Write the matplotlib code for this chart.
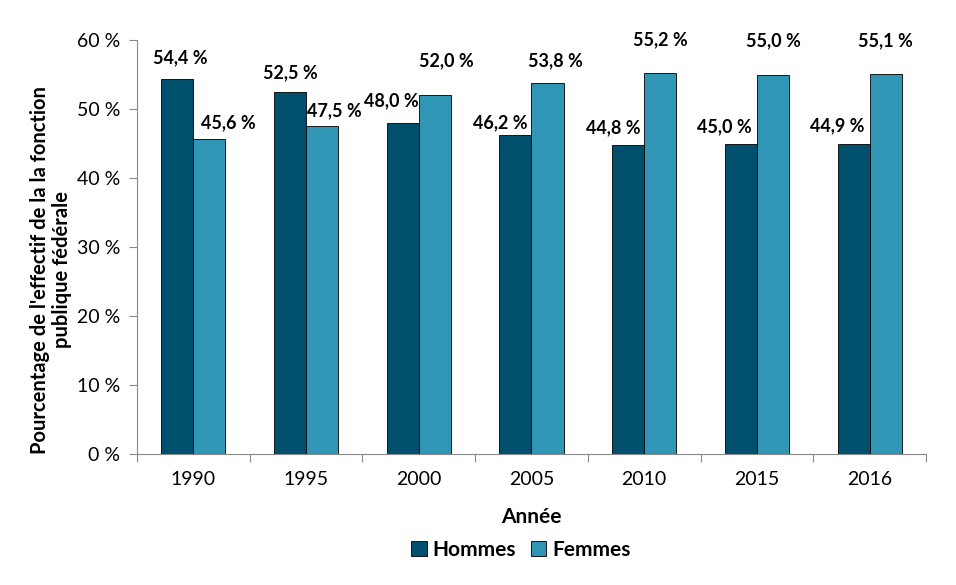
import matplotlib
matplotlib.use("Agg")
import matplotlib.pyplot as plt
import numpy as np

years = ["1990", "1995", "2000", "2005", "2010", "2015", "2016"]
hommes = [54.4, 52.5, 48.0, 46.2, 44.8, 45.0, 44.9]
femmes = [45.6, 47.5, 52.0, 53.8, 55.2, 55.0, 55.1]
yticks = [0, 10, 20, 30, 40, 50, 60]

# label offsets (points) relative to bar top centre
off_h = [(2, 15), (0, 14), (-8, 16), (-11, 9), (-11, 12), (-12, 12), (-12, 13)]
off_f = [(14, 12), (9, 11), (8, 25), (6, 16), (0, 24), (0, 24), (0, 24)]

plt.rcParams['font.family'] = ['Lato', 'DejaVu Sans']
c_h = "#004F6D"
c_f = "#3195B6"

fig = plt.figure(figsize=(9.56, 5.85), dpi=100)
ax = fig.add_axes([0.1433, 0.2239, 0.8253, 0.7077])

x = np.arange(len(years))
w = 0.285
bh = ax.bar(x - w/2, hommes, w, color=c_h, edgecolor="black", linewidth=0.6, label="Hommes")
bf = ax.bar(x + w/2, femmes, w, color=c_f, edgecolor="black", linewidth=0.6, label="Femmes")

for i in range(len(years)):
    ax.annotate(f"{hommes[i]:.1f} %".replace(".", ","), (x[i] - w/2, hommes[i]),
                xytext=off_h[i], textcoords="offset points", ha="center", va="center",
                fontsize=13, fontweight="bold")
    ax.annotate(f"{femmes[i]:.1f} %".replace(".", ","), (x[i] + w/2, femmes[i]),
                xytext=off_f[i], textcoords="offset points", ha="center", va="center",
                fontsize=13, fontweight="bold")

ax.set_xlim(-0.5, len(years) - 0.5)
ax.set_ylim(0, 60)
ax.set_yticks(yticks)
ax.set_yticklabels([f"{v} %" for v in yticks], fontsize=14)
ax.set_xticks(x)
ax.set_xticklabels(years, fontsize=14)
ax.tick_params(axis="x", length=0, pad=12)
ax.set_xticks(np.arange(-0.5, len(years)), minor=True)
ax.tick_params(axis="x", which="minor", length=6, color="#888888", width=0.8)
ax.tick_params(axis="y", length=6, color="#888888", width=0.8, pad=6)
for s in ["top", "right"]:
    ax.spines[s].set_visible(False)
for s in ["left", "bottom"]:
    ax.spines[s].set_color("#888888")
    ax.spines[s].set_linewidth(0.8)

ax.set_xlabel("Année", fontsize=15, fontweight="bold", labelpad=14)
ax.set_ylabel("Pourcentage de l'effectif de la la fonction\npublique fédérale", fontsize=14.5,
              fontweight="bold", linespacing=1.15)
ax.yaxis.set_label_coords(-0.082, 0.445)

fig.legend(handles=[bh, bf], loc="center", bbox_to_anchor=(0.545, 0.06), ncol=2, frameon=False,
           prop={"size": 15, "weight": "bold"}, handlelength=0.75, handleheight=0.75,
           handletextpad=0.3, columnspacing=0.7)

fig.savefig("out.png", dpi=100)
